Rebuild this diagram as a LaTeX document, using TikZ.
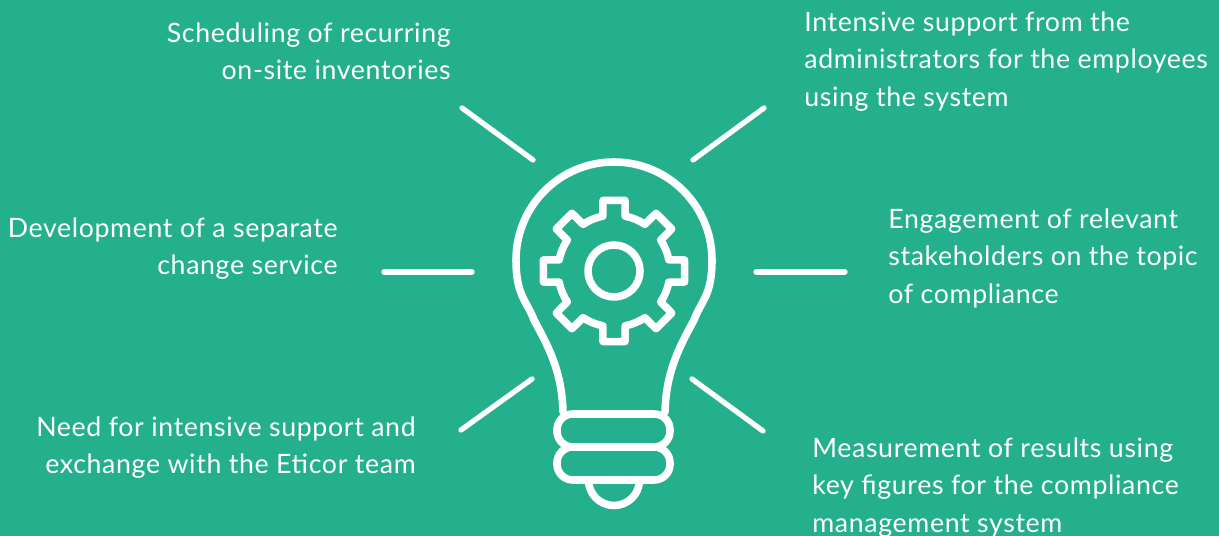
\documentclass[tikz,border=0pt]{standalone}
\usepackage{fontspec}
\setmainfont{Lato}[LetterSpace=2.4]
\definecolor{bulbgreen}{HTML}{24B08C}
\tikzset{
  bulbline/.style={draw=white, line width=4.3pt, line join=round, line cap=round},
  rayline/.style={draw=white, line width=3pt, line cap=round},
  leftlabel/.style={anchor=north east, align=right, text=white, inner sep=0pt, font=\fontsize{15.2pt}{21.5pt}\selectfont},
  rightlabel/.style={anchor=north west, align=left, text=white, inner sep=0pt, font=\fontsize{15.2pt}{21.5pt}\selectfont}
}
\begin{document}
\begin{tikzpicture}[x=0.02cm, y=0.02cm]
\useasboundingbox (0,0) rectangle (1219,536);
\fill[bulbgreen] (0,0) rectangle (1219,536);

% bulb outline
\draw[bulbline] (563,124) .. controls (562,165) and (548,190) .. (534,216)
  .. controls (527,235) and (516,240) .. (516,276)
  arc[start angle=180, end angle=0, radius=98]
  .. controls (712,240) and (701,235) .. (694,216)
  .. controls (680,190) and (666,165) .. (665,124);

% base of the bulb
\draw[bulbline, rounded corners=9pt] (557,89) rectangle (670,122);
\draw[bulbline, rounded corners=9pt] (557,56) rectangle (670,89);
\draw[bulbline] (588.5,56) arc[start angle=180, end angle=360, radius=25.5];

% gear
\draw[bulbline] (614,265) circle (26);
\draw[bulbline, shift={(614,265)}]
  (101.5:56)
  \foreach \a in {90,45,...,-225} {
    -- (\a+8.9:71.4) -- (\a-8.9:71.4) -- (\a-11.5:56)
    arc[start angle=\a-11.5, end angle=\a-33.5, radius=56]
  } -- cycle;

% rays
\draw[rayline] (462,428) -- (533,376);
\draw[rayline] (764,428) -- (693,376);
\draw[rayline] (384,264) -- (472,264);
\draw[rayline] (756,264) -- (845,264);
\draw[rayline] (532,157) -- (461,106);
\draw[rayline] (692,157) -- (763,105);

% labels
\node[leftlabel] (sched) at (451,514) {Scheduling of recurring\\on-site inventories};
\node[leftlabel] (dev) at (338,319) {Development of a separate\\change service};
\node[leftlabel] (need) at (416,120) {Need for intensive support and\\exchange with the Eticor team};
\node[rightlabel] (admin) at (804,525) {Intensive support from the\\administrators for the employees\\using the system};
\node[rightlabel] (engage) at (888,328) {Engagement of relevant\\stakeholders on the topic\\of compliance};
\node[rightlabel] (measure) at (812,99) {Measurement of results using\\key figures for the compliance\\management system};
\end{tikzpicture}
\end{document}
